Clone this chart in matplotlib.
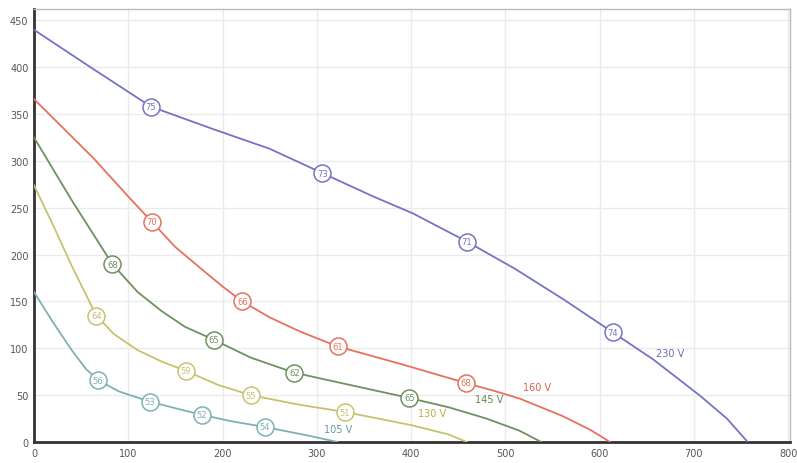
import numpy as np
import matplotlib.pyplot as plt

# Fan curves (airflow, pressure)
blue_x = [0, 60, 124, 190, 250, 306, 360, 402, 459, 510, 562, 614, 657, 707, 735, 757]
blue_y = [440, 400, 358, 334, 313, 287, 262, 244, 214, 185, 152, 117, 88, 49, 25, 0]
red_x = [0, 63, 100, 125, 150, 176, 200, 221, 250, 282, 322, 390, 458, 490, 516, 560, 590, 611]
red_y = [366, 303, 262, 235, 208, 186, 166, 150, 133, 118, 102, 83, 63, 54, 46, 28, 13, 0]
green_x = [0, 40, 83, 110, 135, 160, 191, 230, 276, 330, 398, 440, 480, 515, 538]
green_y = [325, 258, 190, 160, 140, 123, 109, 90, 74, 62, 47, 37, 25, 12, 0]
yellow_x = [0, 20, 40, 66, 85, 110, 135, 161, 195, 230, 280, 330, 400, 440, 459]
yellow_y = [274, 232, 188, 135, 115, 98, 86, 76, 61, 50, 40, 32, 18, 8, 0]
teal_x = [0, 20, 40, 55, 68, 90, 123, 150, 178, 210, 245, 290, 322]
teal_y = [160, 128, 98, 78, 66, 54, 43, 36, 29, 22, 16, 7, 0]

# marked points and the numbers in the circles
blue_mx = [124, 306, 459, 614]
blue_my = [358, 287, 214, 117]
blue_mt = ['75', '73', '71', '74']
red_mx = [125, 221, 322, 458]
red_my = [235, 150, 102, 63]
red_mt = ['70', '66', '61', '68']
green_mx = [83, 191, 276, 398]
green_my = [190, 109, 74, 47]
green_mt = ['68', '65', '62', '65']
yellow_mx = [66, 161, 230, 330]
yellow_my = [135, 76, 50, 32]
yellow_mt = ['64', '59', '55', '51']
teal_mx = [68, 123, 178, 245]
teal_my = [66, 43, 29, 16]
teal_mt = ['56', '53', '52', '54']

labels = ['230 V', '160 V', '145 V', '130 V', '105 V']
label_x = [675, 534, 483, 422, 323]
label_y = [95, 59, 46, 31, 14]

series = [
    (blue_x, blue_y, blue_mx, blue_my, blue_mt, '#7474c4'),
    (red_x, red_y, red_mx, red_my, red_mt, '#e8705e'),
    (green_x, green_y, green_mx, green_my, green_mt, '#6f9160'),
    (yellow_x, yellow_y, yellow_mx, yellow_my, yellow_mt, '#c9c26c'),
    (teal_x, teal_y, teal_mx, teal_my, teal_mt, '#7fb0b2'),
]
text_colors = ['#6a6ac0', '#e06050', '#5d8a4c', '#b8b040', '#5f9aa8']


def main():
    fig = plt.figure(figsize=(7.97, 4.64), dpi=100)
    ax = fig.add_axes([0.0427, 0.0453, 0.9486, 0.9327])

    for n, (x, y, mx, my, mt, c) in enumerate(series):
        ax.plot(x, y, color=c, linewidth=1.3, zorder=3,
                solid_joinstyle='round')
        ax.scatter(mx, my, s=150, facecolor='white', edgecolor=c,
                   linewidth=1.1, zorder=4)
        for px, py, t in zip(mx, my, mt):
            ax.text(px, py, t, fontsize=6, color=c, ha='center',
                    va='center', zorder=5)
        ax.text(label_x[n], label_y[n], labels[n], fontsize=7,
                color=text_colors[n], ha='center', va='center')

    ax.set_xlim(0, 802)
    ax.set_ylim(0, 462)
    ax.xaxis.set_major_locator(plt.MultipleLocator(100))
    ax.yaxis.set_major_locator(plt.MultipleLocator(50))
    ax.grid(color='#ebebeb', linewidth=1.0)
    ax.set_axisbelow(True)
    ax.tick_params(length=0, labelsize=7, labelcolor='#555555', pad=4)

    for side in ['top', 'right']:
        ax.spines[side].set_color('#bbbbbb')
        ax.spines[side].set_linewidth(1.0)
    for side in ['left', 'bottom']:
        ax.spines[side].set_color('#333333')
        ax.spines[side].set_linewidth(2.0)

    fig.savefig('out.png', dpi=100)


if __name__ == "__main__":
    main()
